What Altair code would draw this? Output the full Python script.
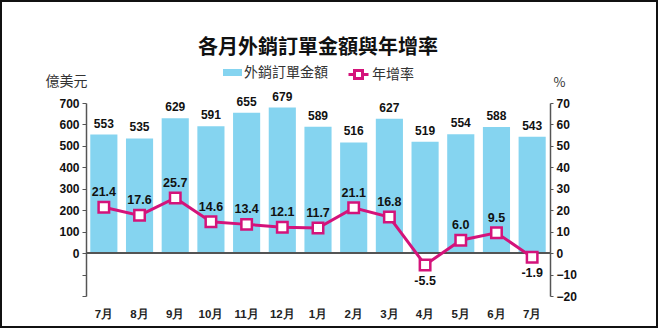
import json
import altair as alt
import pandas as pd

months = ["7月", "8月", "9月", "10月", "11月", "12月", "1月", "2月", "3月", "4月", "5月", "6月", "7月"]
orders = [553, 535, 629, 591, 655, 679, 589, 516, 627, 519, 554, 588, 543]
growth = [21.4, 17.6, 25.7, 14.6, 13.4, 12.1, 11.7, 21.1, 16.8, -5.5, 6.0, 9.5, -1.9]
left_ticks = [-200, -100, 0, 100, 200, 300, 400, 500, 600, 700]
right_ticks = [-20, -10, 0, 10, 20, 30, 40, 50, 60, 70]
bar_series = "外銷訂單金額"
line_series = "年增率"

df = pd.DataFrame({
    "idx": list(range(len(months))),
    "month": months,
    "orders": orders,
    "growth": growth,
    "glabel": [f"{g:.1f}" for g in growth],
    "bs": [bar_series] * len(months),
    "ls": [line_series] * len(months),
})

BLUE = "#85d4f0"
PINK = "#d4137a"
NUM_FONT = "Liberation Sans"
CJK = "Noto Sans CJK TC"

x = alt.X(
    "idx:O",
    scale=alt.Scale(paddingInner=0.24, paddingOuter=0.12),
    axis=alt.Axis(
        title=None,
        labelExpr=json.dumps(months, ensure_ascii=False) + "[datum.value]",
        labelAngle=0, domain=False, ticks=False, labelPadding=12,
        labelFont=NUM_FONT, labelFontSize=11.5, labelFontWeight="bold", labelColor="#222",
    ),
)

left_scale = alt.Scale(domain=[-200, 700], nice=False, zero=False)
left_axis = alt.Axis(
    values=left_ticks, labelOverlap=False,
    labelExpr="datum.value >= 0 ? datum.label : ''",
    title="億美元", titleAngle=0, titleX=-20, titleY=-22,
    titleAlign="center", titleBaseline="middle",
    titleFont=CJK, titleFontSize=14, titleFontWeight="normal", titleColor="#333",
    grid=False, domainColor="#555", domainWidth=1.5, tickColor="#555", tickSize=4,
    labelFont=NUM_FONT, labelFontSize=12, labelFontWeight="bold", labelColor="#111",
    labelPadding=3,
)
y_left = alt.Y("orders:Q", scale=left_scale, axis=left_axis)

y_right = alt.Y(
    "growth:Q",
    scale=alt.Scale(domain=[-20, 70], nice=False, zero=False),
    axis=alt.Axis(
        orient="right", values=right_ticks, labelOverlap=False,
        title="%", titleAngle=0, titleX=9, titleY=-21,
        titleAlign="center", titleBaseline="middle",
        titleFont=CJK, titleFontSize=13, titleFontWeight="normal", titleColor="#333",
        grid=False, domainColor="#555", domainWidth=1.5, tickColor="#555", tickSize=3,
        labelFont=NUM_FONT, labelFontSize=12, labelFontWeight="bold", labelColor="#111",
        labelPadding=3,
    ),
)

base = alt.Chart(df)

bars = base.mark_bar().encode(
    x=x, y=y_left,
    fill=alt.Fill(
        "bs:N",
        scale=alt.Scale(range=[BLUE]),
        legend=alt.Legend(
            title=None, orient="none", legendX=137, legendY=-40, padding=0,
            symbolType="M-1,-0.37H1V0.37H-1Z", symbolSize=361, symbolStrokeWidth=0,
            labelFont=CJK, labelFontSize=14, labelColor="#333", labelOffset=2,
        ),
    ),
)

bar_text = base.mark_text(
    dy=-4, baseline="bottom", font=NUM_FONT, fontSize=12, fontWeight="bold", color="#111"
).encode(x=x, y=y_left, text="orders:Q")

zero_rule = base.mark_rule(color="#555", strokeWidth=1.5).encode(
    y=alt.YDatum(0, scale=left_scale, axis=left_axis)
)

left = alt.layer(bars, bar_text, zero_rule)

line = base.mark_line(strokeWidth=3).encode(
    x=x, y=y_right,
    stroke=alt.Stroke(
        "ls:N",
        scale=alt.Scale(range=[PINK]),
        legend=alt.Legend(
            title=None, orient="none", legendX=261, legendY=-40, padding=0,
            symbolType="M-1,0H-0.4M0.4,0H1M-0.4,-0.4H0.4V0.4H-0.4Z",
            symbolSize=400, symbolStrokeWidth=3, symbolFillColor="white",
            labelFont=CJK, labelFontSize=14, labelColor="#333", labelOffset=2,
        ),
    ),
)

points = base.mark_point(
    shape="square", filled=False, fill="white", stroke=PINK, strokeWidth=2.5,
    size=110, opacity=1, fillOpacity=1,
).encode(x=x, y=y_right)

pos_text = base.transform_filter("datum.growth >= 0").mark_text(
    dy=-8, baseline="bottom", font=NUM_FONT, fontSize=12.5, fontWeight="bold", color="#111"
).encode(x=x, y=y_right, text="glabel:N")

neg_text = base.transform_filter("datum.growth < 0").mark_text(
    dy=10, baseline="top", font=NUM_FONT, fontSize=12.5, fontWeight="bold", color="#111"
).encode(x=x, y=y_right, text="glabel:N")

right = alt.layer(line, points, pos_text, neg_text)

border = alt.Chart(pd.DataFrame({"a": [0]})).mark_rect(
    fillOpacity=0, stroke="#111", strokeWidth=2
).encode(x=alt.value(-85), x2=alt.value(571), y=alt.value(-102), y2=alt.value(224))

chart = alt.layer(left, right, border).resolve_scale(
    y="independent", fill="independent", stroke="independent"
).properties(
    width=464, height=193,
    autosize=alt.AutoSizeParams(type="none"),
    padding={"left": 86, "top": 103, "right": 108, "bottom": 32},
    background="white",
    title=alt.TitleParams(
        "各月外銷訂單金額與年增率", anchor="middle", font=CJK, fontSize=20,
        fontWeight="bold", color="#111", offset=0, dy=58,
    ),
).configure_view(stroke=None)

chart.save("out.html", embed_options={"renderer": "svg", "actions": False})
